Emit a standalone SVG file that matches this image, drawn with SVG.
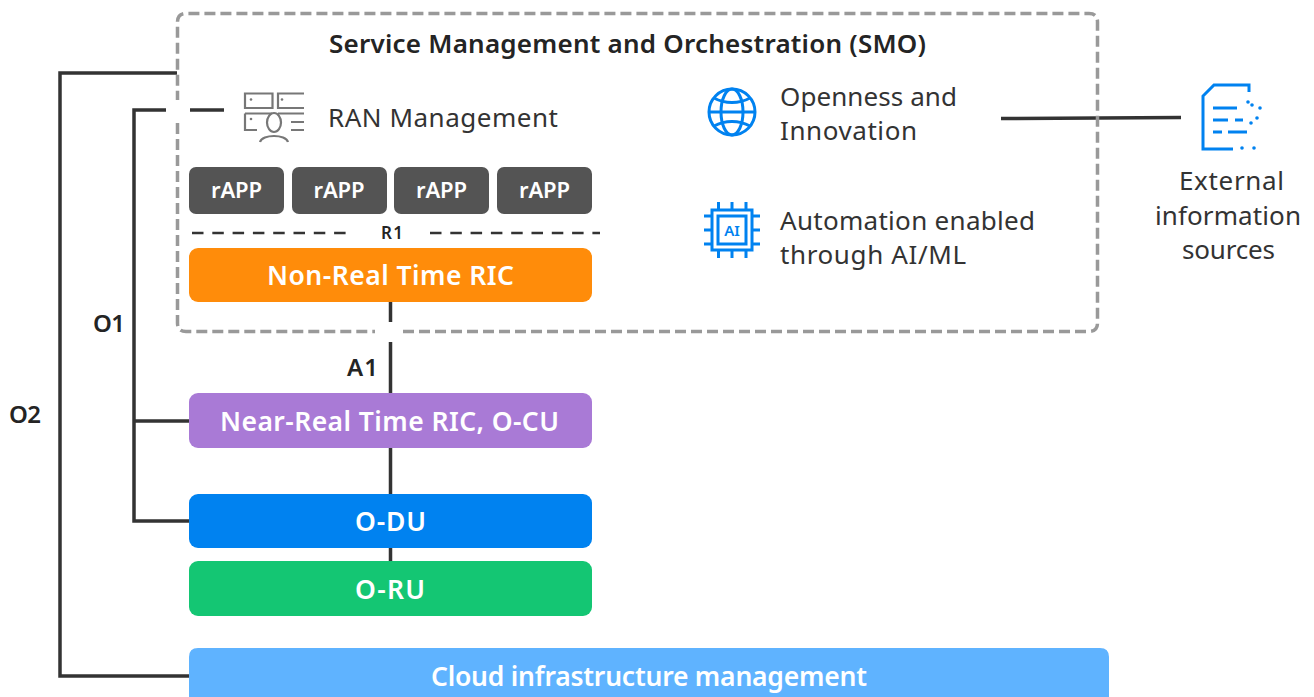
<svg xmlns="http://www.w3.org/2000/svg" width="1314" height="697" viewBox="0 0 1314 697">
<style>
text{font-family:"Noto Sans","Open Sans","Liberation Sans",sans-serif;text-anchor:middle}
.w{fill:#fff;font-weight:600;font-size:26.500px}
.r{fill:#fff;font-weight:600;font-size:22px}
.d{fill:#333;font-size:26px;text-anchor:start}
.s{fill:#333;font-size:26px}
.l{fill:#242424;font-weight:600;font-size:24px}
.c{fill:none;stroke:#333;stroke-width:3.500}
.g{fill:none;stroke:#777;stroke-width:2.200}
.b{fill:none;stroke:#0082f0;stroke-width:3}
.rb{fill:#545454}
</style>
<rect width="1314" height="697" fill="#fff"/>
<g id="connectors">
<path class="c" d="M177 73H60V676H189"/>
<path class="c" d="M166 110H134V521H189M134 421H189"/>
<path class="c" d="M190 110H224"/>
<path class="c" d="M1001 118.500L1181 117.500"/>
<path class="c" d="M390.500 342V393M390.500 448V494M390.500 548V561"/>
<path fill="none" stroke="#333" stroke-width="2.500" stroke-dasharray="11.500 8.800" d="M192 233H346M430 233H600"/>
</g>
<g id="smo">
<path fill="none" stroke="#999" stroke-width="3.500" stroke-dasharray="11 5" d="M177.500 123V323Q177.500 331.500 186 331.500H375M403 331.500H1089Q1097.500 331.500 1097.500 323V22Q1097.500 13.500 1089 13.500H186Q177.500 13.500 177.500 22V100"/>
<path class="c" d="M390.500 302V322"/>
<text x="627.500" y="53" font-size="26" font-weight="600" fill="#242424" textLength="597">Service Management and Orchestration (SMO)</text>
</g>
<g id="ran-management">
<path class="g" d="M245 93.500H272.500V108H245ZM304 93.500H278V108H304M245 113.500V130H257M245 113.500H272M278 113.500H304M291 122H304M291 130H304M260 142C262 134 286 134 288 142"/>
<ellipse class="g" cx="274" cy="122.500" rx="7" ry="9.500"/>
<g fill="#777"><circle cx="251" cy="99.500" r="1.300"/><circle cx="282" cy="99.500" r="1.300"/><circle cx="251" cy="119" r="1.300"/></g>
<text class="d" x="328" y="127" textLength="230">RAN Management</text>
</g>
<g id="openness">
<g class="b"><circle cx="732" cy="112" r="23"/><ellipse cx="732" cy="112" rx="11" ry="23"/><path d="M709 112H755M714 98C725 104 739 104 750 98M714 126C725 120 739 120 750 126"/></g>
<text class="d" x="780" y="106" textLength="177">Openness and</text>
<text class="d" x="780" y="140" textLength="137">Innovation</text>
</g>
<g id="automation">
<g class="b"><rect x="712" y="210" width="40" height="40"/><rect x="718" y="216" width="28" height="28"/><path d="M718.500 202V210M732 202V210M746 202V210M718.500 250V258M732 250V258M746 250V258M704 216H712M704 230H712M704 244H712M752 216H760M752 230H760M752 244H760"/></g>
<text x="732" y="236" font-size="15" font-weight="600" fill="#0082f0">AI</text>
<text class="d" x="780" y="230" textLength="255">Automation enabled</text>
<text class="d" x="780" y="264" textLength="186">through AI/ML</text>
</g>
<g id="external">
<path class="b" d="M1249 92V85H1214L1203 96V149H1233M1213 108H1237M1213 120H1228M1235 120H1243M1213 132H1222M1228 132H1247"/>
<g fill="#0082f0"><circle cx="1248" cy="102" r="1.800"/><circle cx="1252" cy="105" r="1.800"/><circle cx="1260" cy="108" r="1.800"/><circle cx="1257" cy="118" r="1.800"/><circle cx="1251" cy="123" r="1.800"/><circle cx="1242" cy="148" r="1.800"/><circle cx="1254" cy="148" r="1.800"/></g>
<text class="s" x="1231.500" y="190" textLength="105">External</text>
<text class="s" x="1228" y="225" textLength="146">information</text>
<text class="s" x="1228.500" y="259" textLength="93">sources</text>
</g>
<g id="rapp1"><rect class="rb" x="189" y="167" width="95" height="47" rx="7"/><text class="r" x="236.500" y="198" textLength="51">rAPP</text></g>
<g id="rapp2"><rect class="rb" x="292" y="167" width="95" height="47" rx="7"/><text class="r" x="339" y="198" textLength="51">rAPP</text></g>
<g id="rapp3"><rect class="rb" x="394" y="167" width="95" height="47" rx="7"/><text class="r" x="441.500" y="198" textLength="51">rAPP</text></g>
<g id="rapp4"><rect class="rb" x="497" y="167" width="95" height="47" rx="7"/><text class="r" x="544.500" y="198" textLength="51">rAPP</text></g>
<text x="392" y="239" font-size="17" font-weight="600" fill="#242424" textLength="22">R1</text>
<g id="non-rt-ric"><rect x="189" y="248" width="403" height="54" rx="9" fill="#ff8c0a"/><text class="w" x="390.500" y="285" textLength="247">Non-Real Time RIC</text></g>
<g id="near-rt-ric"><rect x="189" y="393" width="403" height="55" rx="9" fill="#a97ad6"/><text class="w" x="389.500" y="431" textLength="339">Near-Real Time RIC, O-CU</text></g>
<g id="o-du"><rect x="189" y="494" width="403" height="54" rx="9" fill="#0082f0"/><text class="w" x="390.500" y="531" textLength="71">O-DU</text></g>
<g id="o-ru"><rect x="189" y="561" width="403" height="55" rx="9" fill="#14c673"/><text class="w" x="390" y="599" textLength="70">O-RU</text></g>
<g id="cloud"><path d="M189 697V657Q189 648 198 648H1100Q1109 648 1109 657V697Z" fill="#5fb3ff"/><text class="w" x="649" y="686" textLength="436">Cloud infrastructure management</text></g>
<text class="l" x="109" y="332" textLength="32">O1</text>
<text class="l" x="25" y="423" textLength="32">O2</text>
<text class="l" x="362.500" y="376" textLength="31">A1</text>
</svg>
